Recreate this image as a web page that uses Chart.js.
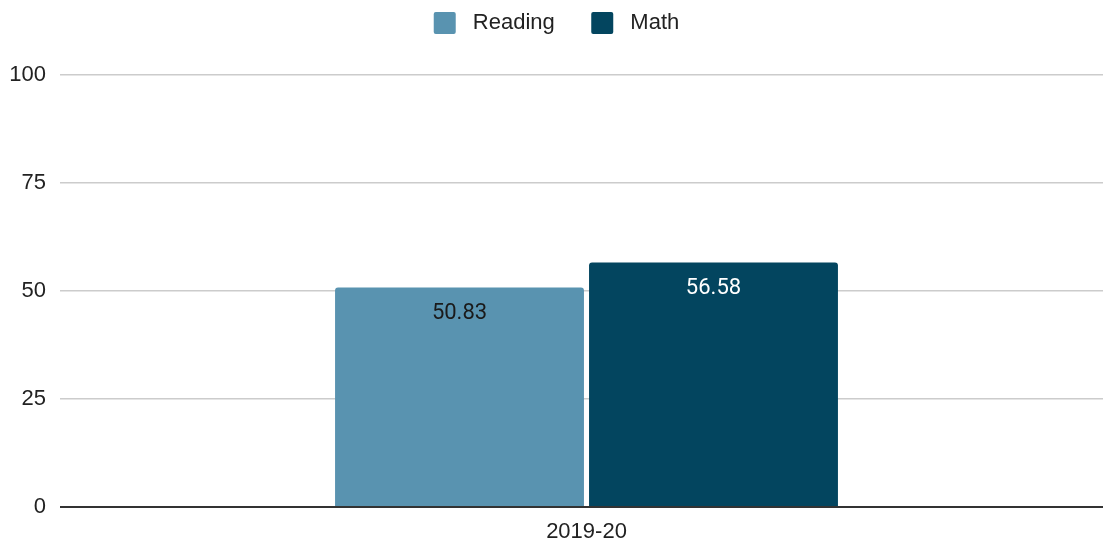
<!DOCTYPE html>
<html>
<head>
<meta charset="utf-8"/>
<style>
  html,body{margin:0;padding:0;background:#fff;overflow:hidden;}
  #wrap{width:1113px;height:542px;}
</style>
</head>
<body>
<div id="wrap"><canvas id="c"></canvas></div>
<script src="https://cdn.jsdelivr.net/npm/chart.js@4.4.0/dist/chart.umd.min.js"></script>
<script>
const categories = ["2019-20"];
const readingVals = [50.83];
const mathVals = [56.58];
const yTicks = [0, 25, 50, 75, 100];

const SANS = "Arial, 'Liberation Sans', sans-serif";

// value labels drawn inside the top of each bar
const barLabels = {
  id: "barLabels",
  afterDatasetsDraw(chart) {
    const ctx = chart.ctx;
    ctx.save();
    ctx.font = "22px Roboto, sans-serif";
    ctx.textAlign = "center";
    ctx.textBaseline = "middle";
    chart.data.datasets.forEach((ds, i) => {
      const meta = chart.getDatasetMeta(i);
      meta.data.forEach((bar, j) => {
        ctx.fillStyle = ds.labelColor;
        ctx.fillText(ds.data[j].toFixed(2), bar.x, bar.y + 26);
      });
    });
    ctx.restore();
  }
};

// extra room under the legend
const legendGap = {
  id: "legendGap",
  beforeInit(chart) {
    const fit = chart.legend.fit;
    chart.legend.fit = function () { fit.call(this); this.height += 31; };
  }
};

function draw() {
  new Chart(document.getElementById("c"), {
    type: "bar",
    data: {
      labels: categories,
      datasets: [
        { label: "Reading", data: readingVals, backgroundColor: "#5993b0", labelColor: "#1a1a1a",
          borderRadius: 3, borderSkipped: "start" },
        { label: "Math", data: mathVals, backgroundColor: "#03455f", labelColor: "#ffffff",
          borderRadius: 3, borderSkipped: "start" }
      ]
    },
    options: {
      responsive: true, maintainAspectRatio: false, animation: false,
      layout: { padding: 0 },
      datasets: { bar: { categoryPercentage: 0.4824, barPercentage: 0.98 } },
      plugins: {
        legend: {
          position: "top",
          labels: {
            font: { family: SANS, size: 22 }, color: "#222",
            boxWidth: 22, boxHeight: 22, padding: 12, useBorderRadius: true, borderRadius: 2,
            generateLabels(chart) {
              const items = Chart.defaults.plugins.legend.labels.generateLabels(chart);
              items.forEach((it, i) => { it.text = " " + it.text + (i < items.length - 1 ? "    " : ""); });
              return items;
            }
          }
        },
        tooltip: { enabled: false }
      },
      scales: {
        y: {
          min: 0, max: 100,
          afterBuildTicks(axis) { axis.ticks = yTicks.map(v => ({ value: v })); },
          afterFit(axis) { axis.width = 60; },
          border: { display: false },
          grid: { color: (c) => c.tick.value === 0 ? "#333" : "#cccccc", lineWidth: (c) => c.tick.value === 0 ? 2 : 1.5, drawTicks: false },
          ticks: { font: { family: SANS, size: 22 }, color: "#222", padding: 14 }
        },
        x: {
          afterFit(axis) { axis.height = 35; },
          border: { display: false },
          grid: { display: false, drawTicks: false },
          ticks: { font: { family: SANS, size: 22 }, color: "#222", padding: 12 }
        }
      }
    },
    plugins: [barLabels, legendGap]
  });
}

Promise.all([
  document.fonts.load("22px Arial"),
  document.fonts.load("22px 'Liberation Sans'"),
  document.fonts.load("22px Roboto")
]).then(draw, draw);
</script>
</body>
</html>
